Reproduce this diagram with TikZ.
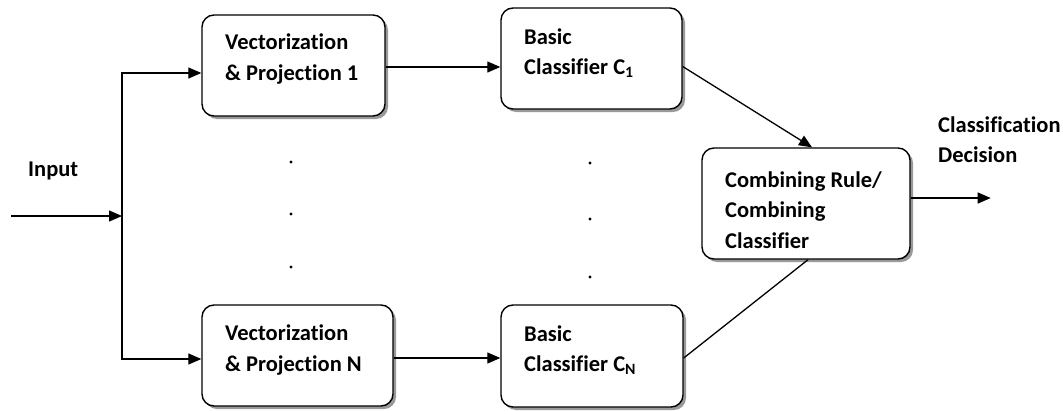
\documentclass[tikz,border=0pt]{standalone}
\usepackage{fontspec}
\setmainfont{Carlito}[Ligatures=NoCommon]
\usetikzlibrary{shapes, arrows.meta, positioning, calc, shadows}

\begin{document}
\begin{tikzpicture}[x=1pt, y=-1pt,
		block/.style={draw, line width=1.4pt, rounded corners=12pt, fill=white,
			drop shadow={shadow xshift=3pt, shadow yshift=-3pt, fill=black!40, opacity=1},
			minimum height=101pt},
		lbl/.style={inner sep=0pt, anchor=west, align=left,
			font=\fontsize{22.5}{30.5}\selectfont\bfseries},
		arr/.style={line width=1.3pt, -{Triangle[length=13pt, width=11pt]}},
		con/.style={line width=1.3pt}]
	\useasboundingbox (0,0) rectangle (1063,410);
	
	% Boxes
	\node[block, minimum width=183pt] (vp1) at (293.5,65.5) {};
	\node[block, minimum width=191pt] (vpN) at (297.5,355.5) {};
	\node[block, minimum width=181pt] (c1) at (591.5,58.5) {};
	\node[block, minimum width=182pt, minimum height=102pt] (cN) at (592,356) {};
	\node[block, minimum width=208pt, minimum height=111pt] (comb) at (806,203.5) {};
	
	% Box labels
	\node[lbl] (vp1txt) at (225,59) {Vectorization\\\& Projection 1};
	\node[lbl] (vpNtxt) at (225,350) {Vectorization\\\& Projection N};
	\node[lbl] (c1txt) at (524,53) {Basic\\Classifier C\textsubscript{1}};
	\node[lbl] (cNtxt) at (524,350) {Basic\\Classifier C\textsubscript{N}};
	\node[lbl] (combtxt) at (725,210) {Combining Rule/\\Combining\\Classifier};
	
	% Free labels
	\node[lbl] (intxt) at (28,171) {Input};
	\node[lbl] (outtxt) at (938,139.5) {Classification\\Decision};
	
	% Input and split
	\coordinate (in) at (11,216);
	\coordinate (split) at (122,216);
	\draw[arr] (in) -- (split);
	\draw[arr] (split) |- ($(vp1.west)+(0,7.5)$);
	\draw[arr] (split) |- ($(vpN.west)+(0,3.5)$);
	
	% Projections to classifiers
	\draw[arr] ($(vp1.east)+(0,1.5)$) coordinate (a1) -- (a1 -| c1.west);
	\draw[arr] ($(vpN.east)+(0,2.5)$) coordinate (aN) -- (aN -| cN.west);
	
	% Classifiers to combiner
	\draw[arr] ($(c1.east)+(0,8)$) -- ($(comb.north)+(6,0)$);
	\draw[con] ($(cN.east)+(0,2)$) -- ($(comb.south)+(2,0)$);
	
	% Output
	\draw[arr] ($(comb.east)+(0,-5.5)$) coordinate (o1) -- ++(80,0) coordinate (out);
	
	% Dots
	\foreach \y in {162,214,267} \fill (291,\y) circle (1.6pt);
	\foreach \y in {163,219,277} \fill (590,\y) circle (1.6pt);
\end{tikzpicture}
\end{document}
